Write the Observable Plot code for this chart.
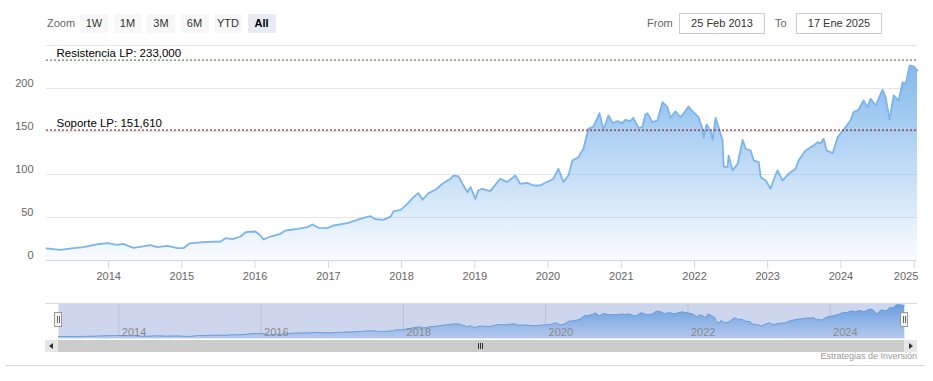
<!DOCTYPE html>
<html>
<head>
<meta charset="utf-8">
<script src="https://cdn.jsdelivr.net/npm/d3@7"></script>
<script src="https://cdn.jsdelivr.net/npm/@observablehq/plot@0.6"></script>
<style>
  html, body { margin: 0; padding: 0; background: #fff; }
  body { font-family: "Liberation Sans", Arial, sans-serif; }
  #wrap { position: relative; width: 933px; height: 381px; overflow: hidden; background: #fff; }
  #wrap svg { position: absolute; left: 0; }
  .lbl { position: absolute; font-size: 11px; color: #666; line-height: 19px; top: 14px; }
  .btn { position: absolute; top: 14px; width: 28px; height: 19px; line-height: 19px; text-align: center;
         font-size: 11px; color: #333; background: #f7f7f7; }
  .btn.sel { background: #e6ebf5; color: #000; font-weight: bold; }
  .inp { position: absolute; top: 13px; height: 19px; line-height: 19px; text-align: center; font-size: 11px;
         color: #333; border: 1px solid #cccccc; background: #fff; }
  .hl { position: absolute; height: 1px; }
  .sb { position: absolute; }
  .handle { position: absolute; top: 312px; width: 6px; height: 13px; background: #f2f2f2; border: 1px solid #999; }
  .handle i { position: absolute; top: 3px; width: 1px; height: 7px; background: #666; }
  .credits { position: absolute; right: 16px; top: 351px; font-size: 9px; color: #999; }
</style>
</head>
<body>
<div id="wrap"></div>
<script>
// ---------- data ----------
const dates = [
  "2013-02-25","2013-05-06","2013-07-10","2013-08-29","2013-10-28","2013-12-26",
  "2014-02-13","2014-03-15","2014-05-04","2014-06-23","2014-07-28","2014-09-01","2014-10-21","2014-12-10",
  "2015-01-09","2015-02-08","2015-04-19","2015-07-13","2015-08-07","2015-09-11","2015-10-21","2015-11-15",
  "2016-01-03","2016-01-28","2016-02-12","2016-03-18","2016-05-07","2016-06-01","2016-07-31","2016-09-19","2016-10-14","2016-11-13","2016-12-27",
  "2017-01-26","2017-04-06","2017-05-26","2017-06-25","2017-07-30","2017-08-24","2017-10-03","2017-11-07","2017-11-22","2017-12-27",
  "2018-01-30","2018-03-01","2018-03-26","2018-04-15","2018-05-15","2018-06-19","2018-07-24","2018-09-02","2018-09-17","2018-10-12","2018-11-01","2018-11-26","2018-12-11",
  "2019-01-04","2019-01-18","2019-02-07","2019-03-19","2019-05-08","2019-06-12","2019-07-22","2019-08-16","2019-09-20","2019-10-20","2019-11-24","2019-12-09",
  "2020-01-13","2020-01-28","2020-02-22","2020-03-18","2020-04-12","2020-05-02","2020-06-01","2020-06-26","2020-07-21","2020-08-15","2020-09-04","2020-09-14","2020-10-04","2020-10-29","2020-11-18","2020-12-13",
  "2021-01-06","2021-01-21","2021-02-15","2021-03-02","2021-03-27","2021-04-16","2021-05-01","2021-05-11","2021-06-05","2021-06-30","2021-07-25","2021-08-19","2021-09-03","2021-09-28","2021-10-23","2021-11-07","2021-12-02","2021-12-27",
  "2022-01-21","2022-02-10","2022-02-15","2022-03-02","2022-03-22","2022-04-01","2022-04-16","2022-05-01","2022-05-21","2022-05-26","2022-06-15","2022-06-20","2022-07-10","2022-08-04","2022-08-29","2022-09-13","2022-10-08","2022-10-23","2022-11-17","2022-11-27","2022-12-22",
  "2023-01-15","2023-01-30","2023-02-19","2023-03-16","2023-04-15","2023-05-20","2023-06-04","2023-07-09","2023-08-18","2023-09-07","2023-09-22","2023-10-07","2023-10-22","2023-11-21","2023-12-16",
  "2024-01-14","2024-02-18","2024-03-04","2024-03-29","2024-04-23","2024-05-13","2024-05-28","2024-06-22","2024-07-27","2024-08-11","2024-08-31","2024-09-20","2024-10-15","2024-11-04","2024-11-19","2024-12-09","2024-12-29","2025-01-17"
];
const values = [
  14.0, 12.4, 14.3, 15.5, 18.6, 20.1,
  18.2, 19.4, 14.7, 16.3, 17.8, 15.5, 17.0, 14.3,
  14.3, 19.8, 21.3, 22.1, 26.0, 24.8, 27.9, 32.9,
  33.7, 29.0, 24.4, 27.9, 31.0, 34.9, 36.8, 38.8, 41.9, 38.0, 37.6,
  40.7, 43.4, 47.3, 49.6, 51.5, 48.0, 47.3, 51.0, 57.0, 58.9,
  65.9, 73.6, 78.3, 70.6, 78.3, 82.2, 89.2, 95.0, 98.8, 97.7, 89.2, 79.4, 85.3,
  71.7, 81.4, 83.4, 80.6, 95.0, 91.1, 98.8, 89.2, 90.3, 87.2, 87.2, 89.2,
  93.0, 95.0, 106.6, 91.1, 98.8, 116.3, 120.0, 129.9, 153.1, 155.8, 165.9, 171.3, 152.0, 168.6, 159.7, 162.0,
  159.7, 163.6, 162.0, 165.9, 154.3, 155.0, 169.8, 171.3, 160.8, 162.8, 184.1, 178.3, 165.9, 173.6, 166.6, 170.5, 179.0, 172.4,
  166.6, 153.1, 142.7, 158.1, 151.2, 140.3, 165.9, 155.0, 139.5, 109.3, 108.5, 122.0, 104.7, 112.4, 140.3, 129.9, 127.9, 116.3, 114.3, 96.9, 93.0,
  83.4, 93.0, 104.7, 93.0, 100.8, 106.6, 116.3, 127.9, 133.7, 137.6, 136.0, 141.5, 127.9, 124.8, 143.4,
  152.0, 162.8, 172.4, 175.2, 186.0, 178.3, 188.0, 180.2, 198.5, 189.9, 163.6, 191.9, 186.0, 207.3, 205.4, 226.7, 225.6, 220.9
];
const levelLabels = ["Resistencia LP: 233,000", "Soporte LP: 151,610"];
const levelValues = [233.0, 151.61];
const yTicks = [0, 50, 100, 150, 200];
const yGrid = [50, 100, 150, 200, 250];
const xTickYears = [2014, 2015, 2016, 2017, 2018, 2019, 2020, 2021, 2022, 2023, 2024, 2025];
const lastTickYear = 2025;
const navTickYears = [2014, 2016, 2018, 2020, 2022, 2024];
const zoomButtons = ["1W", "1M", "3M", "6M", "YTD", "All"];
const selectedButton = "All";
const fromLabel = "25 Feb 2013";
const toLabel = "17 Ene 2025";
const creditText = "Estrategias de Inversión";

// ---------- build ----------
const parse = d3.utcParse("%Y-%m-%d");
const n = Math.min(dates.length, values.length);
const data = d3.range(n).map(i => ({date: parse(dates[i]), value: values[i]}));
const xDomain = d3.extent(data, d => d.date);
const yearDate = y => new Date(Date.UTC(y, 0, 1));
const FONT = '"Liberation Sans", Arial, sans-serif';

const wrap = document.getElementById("wrap");

const main = Plot.plot({
  width: 933, height: 290,
  marginTop: 45, marginRight: 16, marginBottom: 30, marginLeft: 46,
  style: {fontFamily: FONT, fontSize: "11px", color: "#666", background: "transparent", overflow: "visible"},
  x: {type: "utc", domain: xDomain},
  y: {domain: [0, 250]},
  marks: [
    Plot.gridY(yGrid, {stroke: "#e6e6e6", strokeOpacity: 1}),
    Plot.areaY(data, {x: "date", y: "value", fill: "url(#mainGrad)"}),
    Plot.lineY(data, {x: "date", y: "value", stroke: "#7cb5ec", strokeWidth: 1.8}),
    Plot.ruleY([levelValues[0]], {stroke: "#2f6b2f", strokeDasharray: "2,2", strokeWidth: 1}),
    Plot.ruleY([levelValues[1]], {stroke: "#8b0000", strokeDasharray: "2,2", strokeWidth: 1}),
    Plot.text([0, 1], {y: i => levelValues[i], text: i => levelLabels[i], frameAnchor: "left",
      dx: 10, dy: -7, textAnchor: "start", fill: "#000", fontSize: 11.5}),
    Plot.ruleY([0], {stroke: "#ccd6eb"}),
    Plot.axisX({ticks: xTickYears.map(yearDate), tickSize: 8, tickPadding: 4, stroke: "#ccd6eb", strokeOpacity: 1,
      fill: "#666", tickFormat: d => d.getUTCFullYear() === lastTickYear ? "" : String(d.getUTCFullYear()), label: null}),
    Plot.axisX({ticks: [yearDate(lastTickYear)], tickSize: 0, tickPadding: 12, textAnchor: "end", dx: 4,
      fill: "#666", tickFormat: d => String(d.getUTCFullYear()), label: null}),
    Plot.axisY({ticks: yTicks, tickSize: 0, tickPadding: 13, dy: -5, fill: "#666", label: null})
  ]
});
main.style.top = "0px";
d3.select(main).insert("defs", ":first-child").html(
  '<linearGradient id="mainGrad" x1="0" y1="0" x2="0" y2="1">' +
  '<stop offset="0" stop-color="#7cb5ec" stop-opacity="0.95"/>' +
  '<stop offset="1" stop-color="#7cb5ec" stop-opacity="0.04"/></linearGradient>');
wrap.appendChild(main);

const nav = Plot.plot({
  width: 933, height: 75,
  marginTop: 8, marginRight: 29, marginBottom: 32, marginLeft: 58,
  style: {fontFamily: FONT, fontSize: "11px", color: "#888", background: "transparent", overflow: "visible"},
  x: {type: "utc", domain: xDomain},
  y: {domain: [0, 236], axis: null},
  marks: [
    Plot.frame({fill: "#cdd6ec", stroke: null}),
    Plot.gridX(navTickYears.map(yearDate), {stroke: "#b6c2de", strokeOpacity: 1}),
    Plot.areaY(data, {x: "date", y: "value", fill: "url(#navGrad)"}),
    Plot.lineY(data, {x: "date", y: "value", stroke: "#6c9fdc", strokeWidth: 1}),
    Plot.axisX({ticks: navTickYears.map(yearDate), tickSize: 0, tickPadding: 0, dy: -10.5, dx: 3,
      textAnchor: "start", fill: "#8a8a8a", tickFormat: d => String(d.getUTCFullYear()), label: null})
  ]
});
nav.style.top = "295px";
d3.select(nav).insert("defs", ":first-child").html(
  '<linearGradient id="navGrad" x1="0" y1="0" x2="0" y2="1">' +
  '<stop offset="0" stop-color="#6a9fe0"/>' +
  '<stop offset="1" stop-color="#b3c8ec"/></linearGradient>');
wrap.appendChild(nav);

// ---------- HTML chrome ----------
function el(tag, cls, style, text) {
  const e = document.createElement(tag);
  if (cls) e.className = cls;
  Object.assign(e.style, style || {});
  if (text != null) e.textContent = text;
  wrap.appendChild(e);
  return e;
}
el("div", "lbl", {left: "47px"}, "Zoom");
zoomButtons.forEach((b, i) => {
  el("div", "btn" + (b === selectedButton ? " sel" : ""), {left: (80 + i * 33.5) + "px"}, b);
});
el("div", "lbl", {left: "647px"}, "From");
el("div", "inp", {left: "679px", width: "84px"}, fromLabel);
el("div", "lbl", {left: "775px"}, "To");
el("div", "inp", {left: "796px", width: "84px"}, toLabel);

// navigator outline
el("div", "hl", {left: "45px", top: "303px", width: "872px", background: "#d9d9d9"});
// scrollbar
el("div", "sb", {left: "45px", top: "340px", width: "872px", height: "12px", background: "#f2f2f2"});
el("div", "sb", {left: "58px", top: "340px", width: "846px", height: "12px", background: "#cccccc"});
el("div", "sb", {left: "45px", top: "340px", width: "13px", height: "12px", background: "#e6e6e6"});
el("div", "sb", {left: "904px", top: "340px", width: "13px", height: "12px", background: "#e6e6e6"});
el("div", "sb", {left: "49px", top: "343px", width: "0", height: "0", borderTop: "3px solid transparent",
  borderBottom: "3px solid transparent", borderRight: "4px solid #333"});
el("div", "sb", {left: "909px", top: "343px", width: "0", height: "0", borderTop: "3px solid transparent",
  borderBottom: "3px solid transparent", borderLeft: "4px solid #333"});
[-2, 0, 2].forEach(d => el("div", "sb", {left: (480 + d) + "px", top: "343px", width: "1px", height: "6px", background: "#333"}));
// handles
[54, 900].forEach(x => {
  const h = el("div", "handle", {left: x + "px"});
  const a = document.createElement("i"); a.style.left = "2px"; h.appendChild(a);
  const b = document.createElement("i"); b.style.left = "4px"; h.appendChild(b);
});
el("div", "credits", {}, creditText);
el("div", "hl", {left: "6px", top: "365px", width: "919px", background: "#d5d5d5"});
</script>
</body>
</html>
